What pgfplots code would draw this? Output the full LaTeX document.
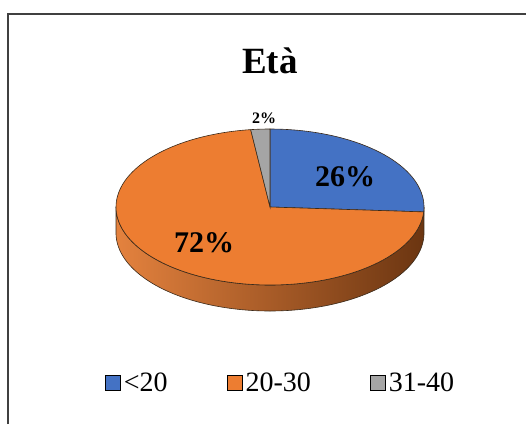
\documentclass[border=0pt]{standalone}
\usepackage{fontspec}
\setmainfont{Liberation Serif}
\usepackage{pgfplots}
\pgfplotsset{compat=1.18}
\definecolor{pBlue}{HTML}{4472C4}
\definecolor{pOrange}{HTML}{ED7D31}
\definecolor{pGray}{HTML}{A5A5A5}
\definecolor{sideL}{HTML}{E4823E}
\definecolor{sideM}{HTML}{D46D25}
\definecolor{sideR}{HTML}{6B3511}
\definecolor{edge}{HTML}{3A2A1A}
\definecolor{frame}{HTML}{404040}
% geometry of the pie (in axis units = px)
\def\cx{270}\def\cy{217}\def\rx{154}\def\ry{78}\def\dep{26}
% data (percentages)
\def\vA{26}\def\vB{72}\def\vC{2}
\pgfmathsetmacro{\aA}{90}
\pgfmathsetmacro{\aB}{90-3.6*\vA}
\pgfmathsetmacro{\aC}{\aB-3.6*\vB}
\pgfmathsetmacro{\aD}{\aC-3.6*\vC}
\begin{document}
\begin{tikzpicture}
\begin{axis}[name=ax, width=526pt, height=424pt, scale only axis,
  xmin=0, xmax=526, ymin=0, ymax=424, axis lines=none, clip=false,
  legend columns=3,
  legend image code/.code={\draw[#1, draw=black, line width=1pt] (0pt,-7.5pt) rectangle (15pt,7.5pt);},
  legend style={at={(axis cs:281,41)}, anchor=center, draw=none, fill=none,
    font=\fontsize{28}{30}\selectfont, nodes={inner sep=2.5pt},
    /tikz/every even column/.append style={column sep=57pt}},
]
% side of the pie
\addplot[forget plot, left color=sideL, middle color=sideM, right color=sideR,
  draw=edge, line width=0.6pt, domain=0:2, samples=361, variable=\t]
  ({\cx+\rx*cos(((\t<1.0001) ? (180*\t-180) : (-180*(\t-1))))},
   {\cy+\ry*sin(((\t<1.0001) ? (180*\t-180) : (-180*(\t-1)))) - \dep*(\t>1.0001)}) -- cycle;
% top faces
\addplot[fill=pBlue, draw=edge, line width=0.6pt, domain=0:1, samples=40, variable=\t]
  ({\cx+\rx*cos(\aA+(\aB-\aA)*\t)},{\cy+\ry*sin(\aA+(\aB-\aA)*\t)}) -- (axis cs:\cx,\cy) -- cycle;
\addlegendentry{<20}
\addplot[fill=pOrange, draw=edge, line width=0.6pt, domain=0:1, samples=120, variable=\t]
  ({\cx+\rx*cos(\aB+(\aC-\aB)*\t)},{\cy+\ry*sin(\aB+(\aC-\aB)*\t)}) -- (axis cs:\cx,\cy) -- cycle;
\addlegendentry{20-30}
\addplot[fill=pGray, draw=edge, line width=0.6pt, domain=0:1, samples=5, variable=\t]
  ({\cx+\rx*cos(\aC+(\aD-\aC)*\t)},{\cy+\ry*sin(\aC+(\aD-\aC)*\t)}) -- (axis cs:\cx,\cy) -- cycle;
\addlegendentry{31-40}
% labels
\node[font=\bfseries\fontsize{37}{40}\selectfont, anchor=base] at (axis cs:270,351) {Età};
\node[font=\bfseries\fontsize{30}{32}\selectfont] at (axis cs:345,247) {26\%};
\node[font=\bfseries\fontsize{30}{32}\selectfont] at (axis cs:204,181) {72\%};
\node[font=\bfseries\fontsize{16}{18}\selectfont] at (axis cs:264,306) {2\%};
% chart frame
\draw[line width=1.3pt, frame] (axis cs:8,0) -- (axis cs:8,410) -- (axis cs:526,410);
\end{axis}
\pgfresetboundingbox
\path (ax.south west) rectangle (ax.north east);
\end{tikzpicture}
\end{document}
